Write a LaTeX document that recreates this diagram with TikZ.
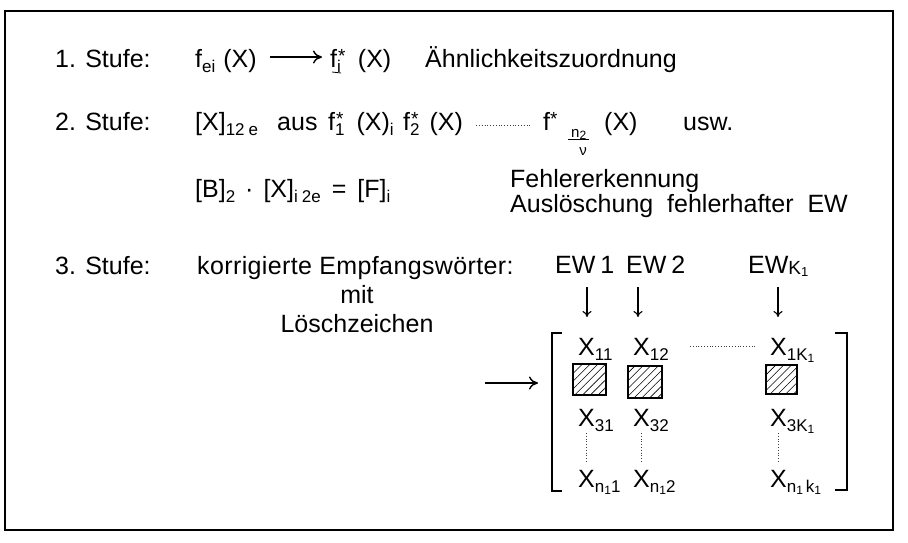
\documentclass[tikz,border=0pt]{standalone}
\usepackage{fontspec}
\setmainfont{Liberation Sans}
\usetikzlibrary{arrows.meta,patterns.meta}
\newcommand{\sbs}[1]{\raisebox{-0.2em}{\fontsize{17}{17}\selectfont #1}}
\newcommand{\ssbs}[1]{\raisebox{-0.15em}{\fontsize{12}{12}\selectfont #1}}
\newcommand{\stx}{\raisebox{4.5pt}{\fontsize{19}{19}\selectfont *}}
\newcommand{\sbst}[1]{\makebox[0pt][l]{\hspace{1pt}\stx}\sbs{#1}}
\begin{document}
\begin{tikzpicture}[x=1pt,y=-1pt,
  txt/.style={anchor=base west,inner sep=0pt,font=\fontsize{25}{30}\selectfont},
  ctxt/.style={anchor=base,inner sep=0pt,font=\fontsize{25}{30}\selectfont},
  arr/.style={line width=1.1pt,-{To[length=6pt,width=9pt]}},
  bigarr/.style={line width=1.4pt,-{To[length=9pt,width=13pt]}},
  dotline/.style={line width=0.8pt,dotted,black!75},
  brk/.style={line width=2pt},
  hatch/.style={draw,line width=1.6pt,inner sep=0pt,
    pattern={Lines[angle=45,distance=5.5pt,line width=0.6pt]}},
  frame/.style={line width=2.4pt}]
\useasboundingbox (0,0) rectangle (908,542);
\draw[frame] (5,11) rectangle (893,530);
% row 1
\node[txt] (s1) at (55,67) {1. Stufe:};
\node[txt] (fei) at (195,67) {f\sbs{ei}\hspace{8pt}(X)};
\node[txt] (fi) at (330,67) {f\sbst{i}\hspace{17pt}(X)};
\draw[bigarr] ([xshift=13pt,yshift=3.5pt]fei.east) -- ([xshift=-8pt,yshift=3.5pt]fi.west);
\draw[line width=0.8pt] ([shift={(2,5)}]fi.base west) -- ++(9,1);
\node[txt] (ahn) at (425,67) {Ähnlichkeitszuordnung};
% row 2
\node[txt] (s2) at (55,130) {2. Stufe:};
\node[txt] (x12e) at (195,130) {[X]\sbs{12\hspace{4pt}e}};
\node[txt] (aus) at (277,130) {aus};
\node[txt] (f1s) at (328,130) {f\sbst{1}\hspace{12pt}(X)\sbs{i}};
\node[txt] (f2s) at (403,130) {f\sbst{2}\hspace{10pt}(X)};
\node[txt] (fn) at (543,130) {f\stx};
\node[anchor=base west,inner sep=0pt,font=\fontsize{15}{15}\selectfont] (n2) at (571,137) {n\ssbs{2}};
\draw[line width=0.7pt] ([shift={(-3,2.5)}]n2.base west) -- ([shift={(3,2.5)}]n2.base east);
\node[anchor=base,inner sep=0pt,font=\fontsize{15}{15}\selectfont] (nu) at (583,155) {ν};
\draw[dotline] ([shift={(13,-5)}]f2s.base east) -- ([shift={(-11,-5)}]fn.base west);
\node[txt] (fnx) at (604,130) {(X)};
\node[txt] (usw) at (683,130) {usw.};
% row B
\node[txt] (bx) at (195,197) {[B]\sbs{2}\hspace{10pt}·\hspace{10pt}[X]\sbs{i\hspace{4pt}2e}\hspace{11pt}=\hspace{11pt}[F]\sbs{i}};
\node[txt] (feh) at (510,187) {Fehlererkennung};
\node[txt] (ausl) at (510,212) {Auslöschung\ \ fehlerhafter\ \ EW};
% row 3
\node[txt] (s3) at (55,274) {3. Stufe:};
\node[txt,font=\fontsize{25}{30}\selectfont\addfontfeature{LetterSpace=1.5}] (korr) at (197,274) {korrigierte Empfangswörter:};
\node[ctxt] (mit) at (357,303) {mit};
\node[ctxt] (lz) at (357,332) {Löschzeichen};
\node[txt] (ew1) at (555,273) {EW\hspace{5pt}1};
\node[txt] (ew2) at (626,273) {EW\hspace{5pt}2};
\node[txt] (ewk) at (748,273) {EW\raisebox{-1pt}{\fontsize{19}{19}\selectfont K}\raisebox{-3pt}{\fontsize{13}{13}\selectfont 1}};
\coordinate (t1) at (587,317);
\coordinate (t2) at (638,317);
\coordinate (t3) at (778,317);
\draw[arr,shorten <=14pt] (ew1.base -| t1) -- (t1);
\draw[arr,shorten <=14pt] (ew2.base -| t2) -- (t2);
\draw[arr,shorten <=14pt] (ewk.base -| t3) -- (t3);
% matrix
\draw[brk] (562,333) -- (552,333) -- (552,491) -- (562,491);
\draw[brk] (835,333) -- (847,333) -- (847,490) -- (835,490);
\coordinate (ain) at (485,383);
\coordinate (aout) at (538,383);
\draw[bigarr] (ain) -- (aout);
\node[txt] (x11) at (578,355) {X\sbs{11}};
\node[txt] (x12) at (633,355) {X\sbs{12}};
\node[txt] (x1k) at (770,355) {X\sbs{1K\ssbs{1}}};
\node[txt] (x31) at (578,426) {X\sbs{31}};
\node[txt] (x32) at (633,426) {X\sbs{32}};
\node[txt] (x3k) at (770,426) {X\sbs{3K\ssbs{1}}};
\node[txt] (xn1) at (578,487) {X\sbs{n\ssbs{1}1}};
\node[txt] (xn2) at (633,487) {X\sbs{n\ssbs{1}2}};
\node[txt] (xnk) at (770,487) {X\sbs{n\ssbs{1}\,k\ssbs{1}}};
\node[hatch,minimum width=33pt,minimum height=31pt] (h1) at (589.5,379.5) {};
\node[hatch,minimum width=34pt,minimum height=32pt] (h2) at (645,382) {};
\node[hatch,minimum width=31pt,minimum height=29pt] (h3) at (781.5,379.5) {};
\draw[dotline] ([shift={(21,-9)}]x12.base east) -- ([shift={(-15,-9)}]x1k.base west);
\draw[dotline] ([shift={(8,7)}]x31.base west) -- ([shift={(8,-24)}]xn1.base west);
\draw[dotline] ([shift={(8,7)}]x32.base west) -- ([shift={(8,-24)}]xn2.base west);
\draw[dotline] ([shift={(8,7)}]x3k.base west) -- ([shift={(8,-24)}]xnk.base west);
\end{tikzpicture}
\end{document}
